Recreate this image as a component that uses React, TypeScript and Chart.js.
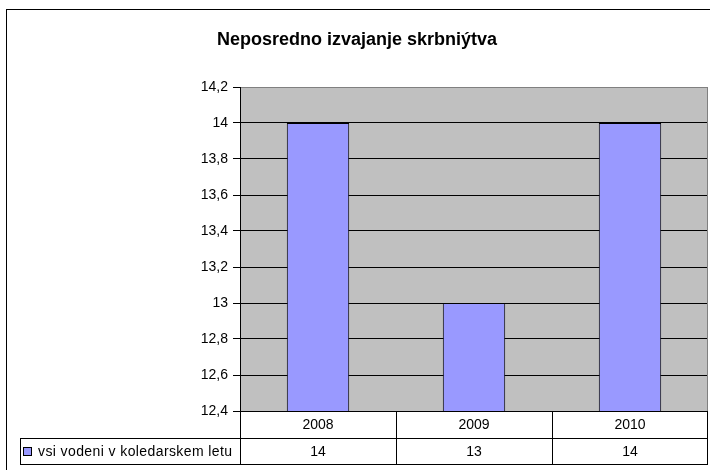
import React, { useEffect, useRef } from "react";
import { Chart, registerables } from "chart.js";

Chart.register(...registerables);

const title = "Neposredno izvajanje skrbniýtva";
const categories = ["2008", "2009", "2010"];
const seriesName = "vsi vodeni v koledarskem letu";
const values = [14, 13, 14];
const yMin = 12.4;
const yMax = 14.2;
const yStep = 0.2;

const FONT = "Arial, 'Liberation Sans', sans-serif";
const BAR_COLOR = "#9999FF";

const fmt = (v: number) => String(Number(v.toFixed(1))).replace(".", ",");

const decorPlugin = {
  id: "decor",
  beforeDraw(chart: any) {
    const { ctx, chartArea } = chart;
    ctx.save();
    ctx.fillStyle = "#ffffff";
    ctx.fillRect(0, 0, chart.width, chart.height);
    // outer frame
    ctx.strokeStyle = "#000";
    ctx.lineWidth = 1;
    ctx.strokeRect(6.5, 9.5, chart.width + 20, chart.height + 20);
    // plot background
    ctx.fillStyle = "#C0C0C0";
    ctx.fillRect(chartArea.left, chartArea.top, chartArea.right - chartArea.left, chartArea.bottom - chartArea.top);
    // title
    ctx.fillStyle = "#000";
    ctx.font = `bold 18px ${FONT}`;
    ctx.textAlign = "center";
    ctx.textBaseline = "middle";
    ctx.fillText(title, 357, 40);
    ctx.restore();
  },
  afterDraw(chart: any) {
    const { ctx, chartArea } = chart;
    const xs = chart.scales.x;
    const L = chartArea.left;
    const R = chartArea.right;
    const T = chartArea.bottom;
    const rowH = 26.5;
    const r1 = Math.round(T + rowH);
    const r2 = Math.round(T + rowH * 2);
    const legendLeft = 20;
    ctx.save();
    // plot border right gray
    ctx.strokeStyle = "#808080";
    ctx.lineWidth = 1;
    ctx.beginPath();
    ctx.moveTo(Math.round(R) - 0.5, chartArea.top);
    ctx.lineTo(Math.round(R) - 0.5, T);
    ctx.stroke();

    ctx.strokeStyle = "#000";
    ctx.beginPath();
    ctx.moveTo(L, Math.round(T) + 0.5);
    ctx.lineTo(R, Math.round(T) + 0.5);
    ctx.moveTo(legendLeft, r1 + 0.5);
    ctx.lineTo(R, r1 + 0.5);
    ctx.moveTo(legendLeft, r2 + 0.5);
    ctx.lineTo(R, r2 + 0.5);
    ctx.moveTo(legendLeft + 0.5, r1);
    ctx.lineTo(legendLeft + 0.5, r2 + 1);
    const n = categories.length;
    const cw = (R - L) / n;
    for (let i = 0; i <= n; i++) {
      const x = Math.round(L + i * cw) + (i === n ? -0.5 : 0.5);
      ctx.moveTo(x, Math.round(T));
      ctx.lineTo(x, r2 + 1);
    }
    ctx.stroke();

    ctx.fillStyle = "#000";
    ctx.font = `14px ${FONT}`;
    ctx.textAlign = "center";
    ctx.textBaseline = "middle";
    categories.forEach((c, i) => {
      const cx = xs.getPixelForValue(i);
      ctx.fillText(c, cx, (T + r1) / 2 + 1);
      ctx.fillText(String(values[i]), cx, (r1 + r2) / 2 + 1);
    });
    // legend key
    const ky = Math.round((r1 + r2) / 2) - 3;
    ctx.fillStyle = BAR_COLOR;
    ctx.fillRect(24, ky, 7, 7);
    ctx.strokeStyle = "#000";
    ctx.strokeRect(23.5, ky - 0.5, 8, 8);
    ctx.fillStyle = "#000";
    ctx.textAlign = "left";
    ctx.font = `14px ${FONT}`;
    const target = 194;
    const w = ctx.measureText(seriesName).width;
    const ls = Math.max(0, (target - w) / (seriesName.length - 1));
    (ctx as any).letterSpacing = `${ls.toFixed(2)}px`;
    ctx.fillText(seriesName, 38, (r1 + r2) / 2 + 1);
    (ctx as any).letterSpacing = "0px";
    ctx.restore();
  },
};

export default function App() {
  const ref = useRef<HTMLCanvasElement | null>(null);
  useEffect(() => {
    if (!ref.current) return;
    const chart = new Chart(ref.current, {
      type: "bar",
      data: {
        labels: categories,
        datasets: [
          {
            label: seriesName,
            data: values,
            backgroundColor: BAR_COLOR,
            borderColor: "#000",
            borderWidth: 1,
            barPercentage: 0.4,
            categoryPercentage: 1,
          },
        ],
      },
      options: {
        responsive: false,
        animation: false,
        devicePixelRatio: 1,
        layout: { padding: { top: 87, bottom: 59, right: 2, left: 0 } },
        plugins: {
          legend: { display: false },
          title: { display: false },
          tooltip: { enabled: false },
        },
        scales: {
          x: { display: false },
          y: {
            min: yMin,
            max: yMax,
            afterFit: (scale: any) => {
              scale.width = 240;
            },
            ticks: {
              stepSize: yStep,
              color: "#000",
              font: { family: FONT, size: 14 },
              padding: 5,
              callback: (v: any) => fmt(Number(v)),
            },
            grid: {
              color: (c: any) => (c.tick && Math.abs(c.tick.value - yMax) < 1e-6 ? "#808080" : "#000"),
              tickColor: "#000",
              tickLength: 7,
              lineWidth: 1,
            },
            border: { display: true, color: "#000", width: 1 },
          },
        },
      },
      plugins: [decorPlugin],
    });
    return () => chart.destroy();
  }, []);
  return (
    <div style={{ position: "fixed", left: 0, top: 0, width: 710, height: 470 }}>
      <canvas ref={ref} width={710} height={470} style={{ display: "block" }} />
    </div>
  );
}
